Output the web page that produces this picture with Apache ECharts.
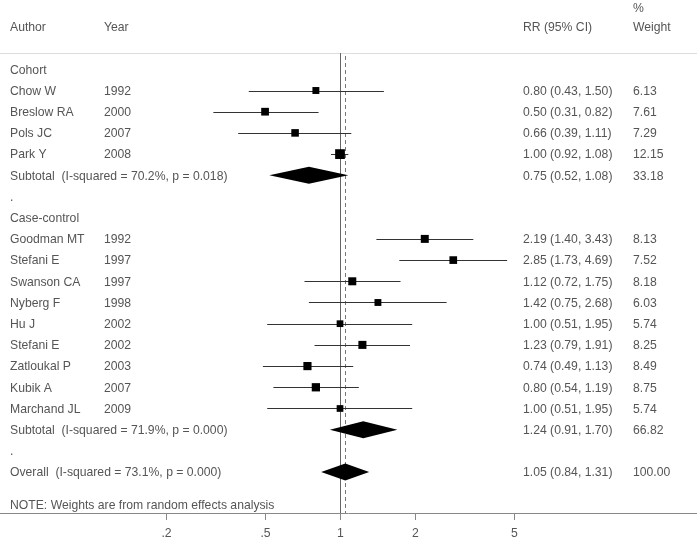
<!DOCTYPE html>
<html><head><meta charset="utf-8">
<script src="https://cdn.jsdelivr.net/npm/echarts@6/dist/echarts.min.js"></script>
<style>html,body{margin:0;padding:0;background:#fff}#c{width:697px;height:539px}</style>
</head><body><div id="c"></div>
<script>
// ---- data ----
const authors = ['Chow W','Breslow RA','Pols JC','Park Y','Goodman MT','Stefani E','Swanson CA','Nyberg F','Hu J','Stefani E','Zatloukal P','Kubik A','Marchand JL'];
const years = ['1992','2000','2007','2008','1992','1997','1997','1998','2002','2002','2003','2007','2009'];
const rr = [0.80,0.50,0.66,1.00,2.19,2.85,1.12,1.42,1.00,1.23,0.74,0.80,1.00];
const ciLow = [0.43,0.31,0.39,0.92,1.40,1.73,0.72,0.75,0.51,0.79,0.49,0.54,0.51];
const ciHigh = [1.50,0.82,1.11,1.08,3.43,4.69,1.75,2.68,1.95,1.91,1.13,1.19,1.95];
const weights = [6.13,7.61,7.29,12.15,8.13,7.52,8.18,6.03,5.74,8.25,8.49,8.75,5.74];
const studyRows = [1,2,3,4,8,9,10,11,12,13,14,15,16];

const pooledLabels = ['Subtotal  (I-squared = 70.2%, p = 0.018)','Subtotal  (I-squared = 71.9%, p = 0.000)','Overall  (I-squared = 73.1%, p = 0.000)'];
const pooledRR = [0.75,1.24,1.05];
const pooledLow = [0.52,0.91,0.84];
const pooledHigh = [1.08,1.70,1.31];
const pooledWeights = [33.18,66.82,100.00];
const pooledRows = [5,17,19];

const groupLabels = ['Cohort','Case-control'];
const groupRows = [0,7];
const dotRows = [6,18];
const noteText = 'NOTE: Weights are from random effects analysis';
const noteRow = 20.55;

const headers = ['Author','Year','RR (95% CI)','Weight'];
const headerPct = '%';
const tickValues = [0.2,0.5,1,2,5];
const tickLabels = ['.2','.5','1','2','5'];
const nullValue = 1;
const overallValue = 1.05;

// ---- chart ----
const TXT = '#555';
const FONT = '12.2px "Liberation Sans", Arial, sans-serif';
const colX = [10,104,523,633];
const fmt = v => v.toFixed(2);

const chart = echarts.init(document.getElementById('c'), null, {renderer:'canvas'});

function txt(x, y, s) {
  return {type:'text', style:{x:x, y:y + 1, text:s, fill:TXT, font:FONT, textVerticalAlign:'middle', textAlign:'left'}};
}

const textItems = [];
textItems.push({row:-2, cells:[[0,headers[0]],[1,headers[1]],[2,headers[2]],[3,headers[3]]]});
textItems.push({row:-2.92, cells:[[3,headerPct]]});
groupLabels.forEach((g,k)=>textItems.push({row:groupRows[k], cells:[[0,g]]}));
dotRows.forEach(r=>textItems.push({row:r, cells:[[0,'.']]}));
authors.forEach((a,i)=>textItems.push({row:studyRows[i], cells:[[0,a],[1,years[i]],[2,fmt(rr[i])+' ('+fmt(ciLow[i])+', '+fmt(ciHigh[i])+')'],[3,fmt(weights[i])]]}));
pooledLabels.forEach((p,k)=>textItems.push({row:pooledRows[k], cells:[[0,p],[2,fmt(pooledRR[k])+' ('+fmt(pooledLow[k])+', '+fmt(pooledHigh[k])+')'],[3,fmt(pooledWeights[k])]]}));
textItems.push({row:noteRow, cells:[[0,noteText]]});

const option = {
  animation:false,
  grid:{left:0,right:0,top:53,bottom:26,containLabel:false},
  xAxis:[
    {type:'log', logBase:10, min:0.04309, max:27.15, position:'bottom',
     axisLine:{show:true,onZero:false,lineStyle:{color:'#888',width:1}}, axisTick:{show:false}, axisLabel:{show:false}, splitLine:{show:false}},
    {type:'value', min:0, max:1, position:'top',
     axisLine:{show:true,onZero:false,lineStyle:{color:'#ddd',width:1}}, axisTick:{show:false}, axisLabel:{show:false}, splitLine:{show:false}}
  ],
  yAxis:{type:'value', inverse:true, min:-0.769, max:20.93, show:false},
  series:[
    {type:'custom', xAxisIndex:0, silent:true, clip:false,
     data:[[nullValue,0],[overallValue,1]],
     renderItem:function(params, api){
       const cs = params.coordSys;
       const x = Math.round(api.coord([api.value(0),0])[0]) + 0.5;
       const dashed = api.value(1) === 1;
       return {type:'line', shape:{x1:x,y1:cs.y + (dashed?3:0),x2:x,y2:cs.y+cs.height},
               style:{stroke: dashed?'#777':'#666', lineWidth:1, lineDash: dashed?[4,3]:null}};
     }},
    {type:'custom', xAxisIndex:0, silent:true, clip:false,
     data:tickValues.map((v,i)=>[v,i]),
     renderItem:function(params, api){
       const cs = params.coordSys;
       const x = Math.round(api.coord([api.value(0),0])[0]) + 0.5;
       const yb = cs.y + cs.height;
       return {type:'group', children:[
         {type:'line', shape:{x1:x,y1:yb,x2:x,y2:yb+7}, style:{stroke:'#888',lineWidth:1}},
         {type:'text', style:{x:x, y:yb+21, text:tickLabels[api.value(1)], fill:TXT, font:FONT, textAlign:'center', textVerticalAlign:'middle'}}
       ]};
     }},
    {type:'custom', xAxisIndex:0, silent:true, clip:false,
     data:rr.map((v,i)=>[v, studyRows[i], ciLow[i], ciHigh[i], weights[i]]),
     renderItem:function(params, api){
       const row = api.value(1);
       const c = api.coord([api.value(0), row]);
       const y = Math.round(c[1]) + 0.5;
       const xl = api.coord([api.value(2), row])[0];
       const xh = api.coord([api.value(3), row])[0];
       const s = 2.8*Math.sqrt(api.value(4));
       return {type:'group', children:[
         {type:'line', shape:{x1:xl,y1:y,x2:xh,y2:y}, style:{stroke:'#333',lineWidth:1}},
         {type:'rect', shape:{x:c[0]-s/2, y:c[1]-s/2, width:s, height:s}, style:{fill:'#000'}}
       ]};
     }},
    {type:'custom', xAxisIndex:0, silent:true, clip:false,
     data:pooledRR.map((v,k)=>[v, pooledRows[k], pooledLow[k], pooledHigh[k]]),
     renderItem:function(params, api){
       const row = api.value(1);
       const c = api.coord([api.value(0), row]);
       const xl = api.coord([api.value(2), row])[0];
       const xh = api.coord([api.value(3), row])[0];
       const h = 8.5;
       return {type:'polygon', shape:{points:[[xl,c[1]],[c[0],c[1]-h],[xh,c[1]],[c[0],c[1]+h]]}, style:{fill:'#000'}};
     }},
    {type:'custom', xAxisIndex:0, silent:true, clip:false,
     data:textItems.map((t,i)=>[1, t.row, i]),
     renderItem:function(params, api){
       const t = textItems[api.value(2)];
       const y = api.coord([1, api.value(1)])[1];
       return {type:'group', children:t.cells.map(cell=>txt(colX[cell[0]], y, cell[1]))};
     }}
  ]
};
chart.setOption(option);
</script>
</body></html>
